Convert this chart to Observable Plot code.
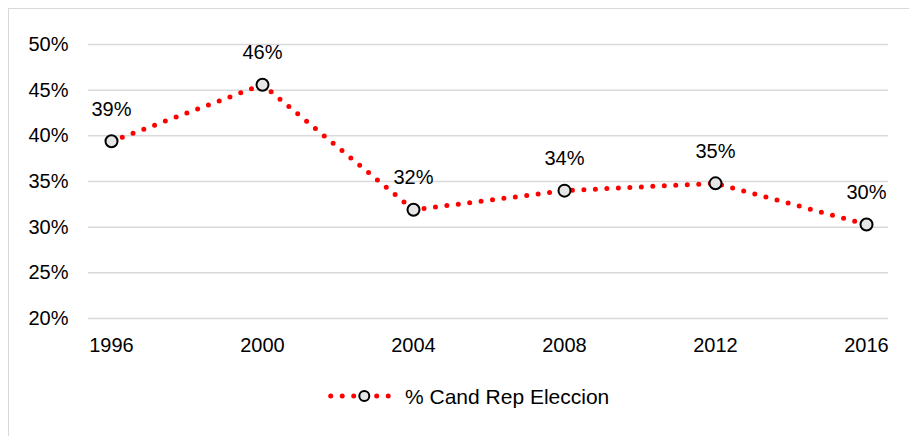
<!DOCTYPE html>
<html>
<head>
<meta charset="utf-8">
<script src="https://cdn.jsdelivr.net/npm/d3@7"></script>
<script src="https://cdn.jsdelivr.net/npm/@observablehq/plot@0.6"></script>
<style>
  html, body { margin: 0; padding: 0; background: #fff; }
  #wrap { position: relative; width: 909px; height: 436px; overflow: hidden; font-family: "Liberation Sans", Arial, sans-serif; }
  #frame { position: absolute; left: 8px; top: 8px; width: 1000px; height: 1000px; border-left: 1.5px solid #d9d9d9; border-top: 1.5px solid #d9d9d9; }
  #chart { position: absolute; left: 0; top: 0; }
  #legend { position: absolute; left: 0; top: 380px; width: 909px; height: 32px; }
  #legend svg { position: absolute; left: 322px; top: 0; }
  #legend span { position: absolute; left: 405px; top: 16px; transform: translateY(-50%); font-size: 21px; color: #000; white-space: nowrap; line-height: 1; }
</style>
</head>
<body>
<div id="wrap">
  <div id="frame"></div>
  <div id="chart"></div>
  <div id="legend"></div>
</div>
<script>
const years = [1996, 2000, 2004, 2008, 2012, 2016];
const values = [0.394, 0.456, 0.319, 0.340, 0.348, 0.303];
const yTicks = [0.20, 0.25, 0.30, 0.35, 0.40, 0.45, 0.50];
const seriesName = "% Cand Rep Eleccion";

const data = years.map((year, i) => ({year, value: values[i]}));
const pct = d3.format(".0%");

const chart = Plot.plot({
  width: 909,
  height: 370,
  marginLeft: 88,
  marginRight: 21,
  marginTop: 44,
  marginBottom: 52,
  style: {fontFamily: "'Liberation Sans', Arial, sans-serif", fontSize: "20px", color: "#000", background: "transparent", overflow: "visible"},
  x: {type: "point", domain: years, padding: 0.1316, label: null, tickSize: 0, tickPadding: 19, tickFormat: d => String(d)},
  y: {domain: [0.2, 0.5], ticks: yTicks, tickFormat: pct, label: null, tickSize: 0, tickPadding: 20},
  marks: [
    Plot.ruleY(yTicks, {stroke: "#d9d9d9", strokeWidth: 1.5}),
    Plot.line(data, {x: "year", y: "value", stroke: "#ff0000", strokeWidth: 5, strokeDasharray: "0 11.5", strokeLinecap: "round"}),
    Plot.dot(data, {x: "year", y: "value", r: 6, fill: "#e6e6e6", stroke: "#000", strokeWidth: 2}),
    Plot.text(data, {x: "year", y: "value", text: d => pct(d.value), dy: -32, fontSize: 20, fill: "#000"})
  ]
});
document.getElementById("chart").appendChild(chart);

// Legend (below the plot)
const legend = document.getElementById("legend");
const ns = "http://www.w3.org/2000/svg";
const lsvg = document.createElementNS(ns, "svg");
lsvg.setAttribute("width", 75);
lsvg.setAttribute("height", 32);
const ll = document.createElementNS(ns, "line");
ll.setAttribute("x1", 8.7); ll.setAttribute("x2", 67);
ll.setAttribute("y1", 16); ll.setAttribute("y2", 16);
ll.setAttribute("stroke", "#ff0000"); ll.setAttribute("stroke-width", 5);
ll.setAttribute("stroke-dasharray", "0 11.5"); ll.setAttribute("stroke-linecap", "round");
lsvg.appendChild(ll);
const lc = document.createElementNS(ns, "circle");
lc.setAttribute("cx", 42.3); lc.setAttribute("cy", 16); lc.setAttribute("r", 5);
lc.setAttribute("fill", "#e6e6e6"); lc.setAttribute("stroke", "#000"); lc.setAttribute("stroke-width", 2);
lsvg.appendChild(lc);
legend.appendChild(lsvg);
const lt = document.createElement("span");
lt.textContent = seriesName;
legend.appendChild(lt);
</script>
</body>
</html>
